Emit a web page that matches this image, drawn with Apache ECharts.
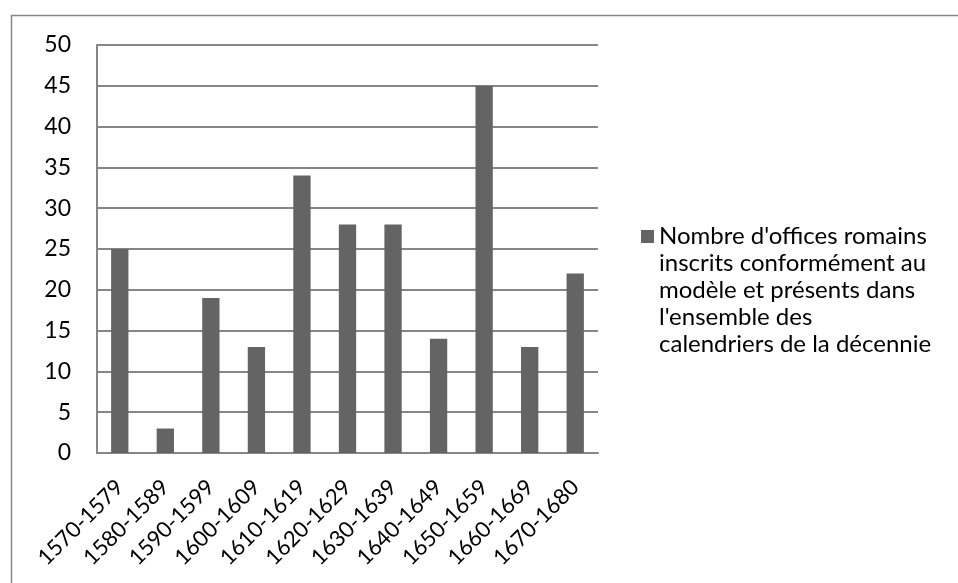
<!DOCTYPE html>
<html>
<head>
<meta charset="utf-8">
<script src="https://cdn.jsdelivr.net/npm/echarts@6/dist/echarts.min.js"></script>
<style>
  html, body { margin: 0; padding: 0; background: #fff; }
  #chart { width: 958px; height: 583px; }
</style>
</head>
<body>
<div id="chart"></div>
<script>
// decades on the x axis
const decades = ['1570-1579', '1580-1589', '1590-1599', '1600-1609', '1610-1619', '1620-1629',
    '1630-1639', '1640-1649', '1650-1659', '1660-1669', '1670-1680'];
// number of Roman offices per decade
const offices = [25, 3, 19, 13, 34, 28, 28, 14, 45, 13, 22];
const seriesName = "Nombre d'offices romains inscrits conformément au modèle et présents dans l'ensemble des calendriers de la décennie";
const legendLines = ["Nombre d'offices romains", 'inscrits conformément au', 'modèle et présents dans', "l'ensemble des", 'calendriers de la décennie'];

const font = 'Lato, "Open Sans", sans-serif';
const gridColor = '#868686';
const barColor = '#646464';

var myChart = echarts.init(document.getElementById('chart'));
var option = {
    animation: false,
    backgroundColor: '#fff',
    textStyle: { fontFamily: font },
    graphic: [
        {
            type: 'rect',
            shape: { x: 11.5, y: 15.5, width: 1200, height: 1200 },
            style: { fill: 'none', stroke: gridColor, lineWidth: 1.5 },
            silent: true
        }
    ],
    legend: {
        left: 636,
        top: 218,
        itemWidth: 13,
        itemHeight: 135,
        // square at the first line, tiny dots stretch the box to the full text height
        icon: 'path://M0,0h0.01v0.01h-0.01z M0,7h13v13h-13z M0,135h0.01v0.01h-0.01z',
        formatter: () => legendLines.join('\n'),
        textStyle: { fontFamily: font, fontSize: 24, color: '#000', lineHeight: 27 }
    },
    grid: { left: 97, top: 45, right: 360, bottom: 130, containLabel: false },
    xAxis: {
        type: 'category',
        data: decades,
        axisLine: { lineStyle: { color: gridColor, width: 2 } },
        axisTick: { show: false },
        axisLabel: {
            interval: 0, rotate: 45, margin: 15, verticalAlign: 'top',
            padding: [0, 11, 0, 0],
            fontFamily: font, fontSize: 22, color: '#000'
        }
    },
    yAxis: {
        type: 'value',
        min: 0, max: 50, interval: 5,
        axisLine: { show: true, lineStyle: { color: gridColor, width: 2 } },
        axisTick: { show: false },
        splitLine: { lineStyle: { color: gridColor, width: 2 } },
        axisLabel: { margin: 26, fontFamily: font, fontSize: 23, color: '#000' }
    },
    series: [
        {
            name: seriesName,
            type: 'bar',
            data: offices,
            barWidth: '38%',
            itemStyle: { color: barColor }
        }
    ]
};
myChart.setOption(option);
</script>
</body>
</html>
